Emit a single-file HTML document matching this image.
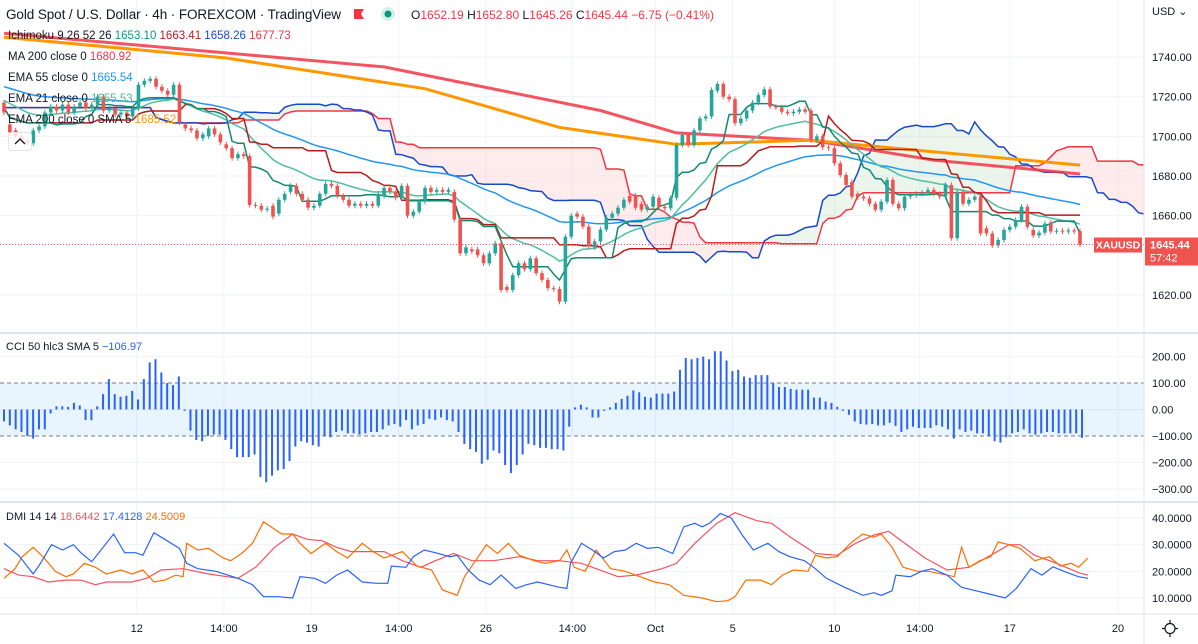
<!DOCTYPE html>
<html><head><meta charset="utf-8"><style>
html,body{margin:0;padding:0;background:#fff;}
svg{display:block;font-family:"Liberation Sans",sans-serif;}
</style></head><body>
<svg id="chart" width="1198" height="644" viewBox="0 0 1198 644" xmlns="http://www.w3.org/2000/svg">
<defs><clipPath id="plotClip"><rect x="0" y="0" width="1144" height="644"/></clipPath></defs>
<rect x="0" y="0" width="1198" height="644" fill="#ffffff"/>
<g id="grid"></g>
<g id="cciPane" clip-path="url(#plotClip)"></g>
<g id="dmiPane" clip-path="url(#plotClip)"></g>
<g id="mainPane" clip-path="url(#plotClip)"></g>
<g id="axes"></g>
<line x1="0" y1="333" x2="1198" y2="333" stroke="#e0e3eb" stroke-width="2"/>
<line x1="0" y1="502" x2="1198" y2="502" stroke="#e0e3eb" stroke-width="2"/>
<line x1="0" y1="614" x2="1198" y2="614" stroke="#e0e3eb" stroke-width="1"/>
<line x1="1144" y1="0" x2="1144" y2="644" stroke="#e0e3eb" stroke-width="1"/>
<text x="6" y="19" font-size="13.5" fill="#131722" textLength="335">Gold Spot / U.S. Dollar · 4h · FOREXCOM · TradingView</text>
<path d="M354 9 L364 9 L361 14 L364 19 L354 19 Z" fill="#f23645"/>
<circle cx="388" cy="14" r="7" fill="#d8efe9"/>
<circle cx="388" cy="14" r="3.5" fill="#089981"/>
<text x="411" y="19" font-size="12"><tspan fill="#131722">O</tspan><tspan fill="#f23645">1652.19 </tspan><tspan fill="#131722">H</tspan><tspan fill="#f23645">1652.80 </tspan><tspan fill="#131722">L</tspan><tspan fill="#f23645">1645.26 </tspan><tspan fill="#131722">C</tspan><tspan fill="#f23645">1645.44 −6.75 (−0.41%)</tspan></text>
<g font-size="11.5">
<text x="8" y="39"><tspan fill="#131722">Ichimoku 9 26 52 26 </tspan><tspan fill="#089981">1653.10 </tspan><tspan fill="#b71c1c">1663.41 </tspan><tspan fill="#1848cc">1658.26 </tspan><tspan fill="#f23645">1677.73</tspan></text>
<text x="8" y="60"><tspan fill="#131722">MA 200 close 0 </tspan><tspan fill="#f23645">1680.92</tspan></text>
<text x="8" y="81"><tspan fill="#131722">EMA 55 close 0 </tspan><tspan fill="#2196f3">1665.54</tspan></text>
<text x="8" y="102"><tspan fill="#131722">EMA 21 close 0 </tspan><tspan fill="#4dbf9e">1655.53</tspan></text>
<text x="8" y="123"><tspan fill="#131722">EMA 200 close 0 SMA 5 </tspan><tspan fill="#ff9800">1685.52</tspan></text>
</g>
<rect x="8.5" y="132.5" width="23" height="18" rx="3" fill="#fff" fill-opacity="0.8" stroke="#e0e3eb"/>
<path d="M15 144 L20 139 L25 144" fill="none" stroke="#131722" stroke-width="1.3"/>
<text x="6" y="350" font-size="11"><tspan fill="#131722">CCI 50 hlc3 SMA 5 </tspan><tspan fill="#2962ff">−106.97</tspan></text>
<text x="6" y="520" font-size="11"><tspan fill="#131722">DMI 14 14 </tspan><tspan fill="#f7525f">18.6442 </tspan><tspan fill="#2962ff">17.4128 </tspan><tspan fill="#ff6d00">24.5009</tspan></text>
<text x="1152" y="15" font-size="11" fill="#131722">USD ⌄</text>
<path d="M1170 620 l0 3 M1170 634 l0 3 M1162 628.5 l3 0 M1175 628.5 l3 0" stroke="#131722" stroke-width="1.2"/>
<circle cx="1170" cy="628.5" r="5" fill="none" stroke="#131722" stroke-width="1.2"/>
</svg>
<script>
const opens=[1717,1706,1703,1700,1698,1696.5,1703,1705,1712,1715,1713,1716,1712,1715,1717,1714,1716,1720,1713,1714,1711,1712,1710,1714,1726,1728,1729,1725,1723,1721,1726,1706,1704,1703,1699,1700,1704,1701,1696,1694,1689,1691,1690,1665.4,1665,1663,1665,1661,1668,1672,1675,1671,1668,1664,1665,1671,1676,1675,1670,1668,1665,1666,1665,1666,1665,1670,1674,1672,1669,1675,1660,1662,1667,1674,1672,1673,1672,1672,1658,1641,1643,1643,1640,1636,1641,1646,1624,1622.5,1630,1636,1633,1638.5,1631,1627.6,1623.4,1623,1616.6,1649.4,1661,1659.5,1654.5,1644,1647,1653,1659,1661,1664,1670,1670,1666,1663,1664.5,1669,1664.5,1663.7,1669,1695.6,1700.7,1695.6,1703,1709,1710,1723,1726.4,1720,1718.7,1706.6,1709,1713,1717,1720.8,1723.7,1715,1714.6,1712.4,1711.6,1712.4,1713.6,1713,1698,1700,1694.5,1694,1686.4,1680.5,1677,1671,1669.6,1668.7,1666,1663,1667,1678,1666,1663.7,1669.6,1670.4,1671,1671.6,1673,1671,1669.6,1675.5,1648.6,1672,1666,1668,1669.6,1653.6,1651,1645,1647.7,1652.8,1654.4,1657.8,1664.5,1652.8,1650,1651.4,1656.5,1652,1652.4,1652,1652.6,1652.19];
const closes=[1712,1702,1700,1698,1696.5,1703,1705,1712,1715,1713,1716,1712,1715,1717,1714,1716,1720,1713,1714,1711,1712,1710,1714,1726,1728,1729,1725,1723,1721,1726,1707,1704,1703,1699,1701,1704,1701,1697,1694,1689,1691,1690,1665.4,1665,1663,1663.5,1659.5,1668,1671,1675,1671,1668,1664,1665,1671,1676,1675,1670,1668,1665,1666,1665,1666,1665,1671,1674,1672,1669,1675,1660,1662,1667,1674,1672,1673,1672,1673,1658,1641,1644,1642,1640,1636,1641,1646,1622.5,1622.5,1630,1636,1633,1638.5,1631,1627.6,1623.4,1623,1616.6,1649.4,1660,1659.5,1654.5,1644.4,1647,1653,1659,1661,1664,1668,1667,1664,1663,1664.5,1669.6,1664.5,1663.7,1669,1695.6,1700.7,1695.6,1703,1709,1710,1723.4,1726.4,1720,1718.7,1706.6,1709,1713,1717,1720.8,1723.7,1715,1714.6,1712.4,1711.6,1712.4,1713.6,1712.4,1698,1700,1694.5,1694,1686.4,1680.5,1675.5,1669.6,1669.3,1668.7,1666,1663,1667,1678,1666,1663.7,1669.6,1670.4,1671,1671.6,1673,1671,1669.6,1675.5,1648.6,1672,1666,1668,1669.6,1651,1651,1645,1647.7,1652.8,1654.4,1657.8,1664.5,1654.4,1650,1651.4,1656,1652,1652.4,1652,1652.6,1652,1645.44];
const ema55Start=1725;
const ema21Start=1718;
const ma200Bars=[0,65,102,115,138,159,184];
const ma200Vals=[1752,1735,1713,1701.7,1698,1688,1681];
const ema200Bars=[0,38,72,95,115,138,156,184];
const ema200Vals=[1750,1739.5,1724,1704.5,1696,1698,1693,1685.5];
const cciVals=[-45,-60,-75,-85,-100,-110,-75,-75,-15,12,12,10,25,15,-40,-40,12,58,115,58,48,52,70,38,115,178,190,140,100,92,125,
-5,-80,-115,-120,-100,-95,-95,-115,
-150,-180,-180,-180,-170,-255,-275,-250,-230,-225,-195,-140,-120,-125,-135,-140,-100,-105,-85,-80,-90,-90,-95,-90,-85,-85,-75,-60,-55,-65,-40,-75,-60,-55,-35,-40,-30,-40,-45,-85,-130,-150,-160,-205,-190,-155,-165,-210,-240,-210,-170,-130,-135,-145,-145,-150,-150,-155,-65,8,18,8,-30,-30,-5,8,25,40,52,72,65,48,45,60,60,60,68,150,195,190,195,200,190,220,220,185,145,150,125,120,130,130,130,100,85,85,78,75,75,75,45,45,30,25,10,-5,-20,-45,-55,-57,-55,-60,-60,-50,-62,-85,-75,-65,-70,-70,-70,-60,-65,-75,-110,-75,-85,-80,-90,-90,-100,-120,-125,-105,-90,-85,-75,-90,-95,-90,-85,-85,-90,-90,-90,-90,-107];
const dmiPlusAt=[0,20,40,50,65,80,95,105,120,150,165,180,190,205,220,240,250,265,290,320,340,355,375,395,405,425,440,455,470,490,510,525,530,550,560,575,590,610,620,635,650,665,680,700,715,730,760,770,775,790,805,820,835,850,865,880,895,915,930,945,955,965,980,995,1010,1025,1045,1060,1075,1095,1110,1125,1150,1175,1190,1200,1215,1220,1240,1255,1270,1290,1310,1330,1345,1370,1385,1405,1420,1435,1450,1470,1483];
const dmiPlus=[30.5,26,19,23,30,28,30,27,23.6,34,27,27,26,34.5,32,28.6,23,21,20,17.4,15,10.5,10.5,10,18,17.4,15.5,18.6,20.5,16,15.5,15.5,22,21.5,25.5,28,27,25.5,26,20.5,16.7,15,18.6,13.6,15,16,14,13.6,23,30.5,28,25,27.4,28,30.5,28.6,29,26.7,36.7,38,36.7,38,41.7,40,33.6,28,30.5,27.4,25.5,24,21,17.4,14,11,12,11,12.7,18.6,18,20,21,18.6,14,12.7,11.7,10,13.6,21,18.6,21.7,20,18,17.4];
const dmiMinusAt=[0,15,25,40,55,70,85,95,110,125,140,160,175,190,205,220,235,245,250,265,280,300,310,325,340,355,365,380,395,405,420,440,455,470,490,505,520,545,565,585,600,620,630,645,660,675,690,705,725,740,760,770,780,795,810,830,850,870,890,910,930,955,975,990,1000,1015,1035,1050,1065,1080,1100,1110,1125,1140,1160,1175,1190,1200,1215,1230,1250,1265,1290,1300,1310,1320,1335,1350,1360,1375,1390,1410,1430,1445,1460,1470,1483];
const dmiMinus=[17.4,21,25.5,29,25,20,18,19,23,21.5,19,20.5,19,20.5,16,16.7,18.6,18,30.5,28,28.6,25,24,26.7,30.5,38.6,36.7,34,34,30.5,26.7,30.5,27.4,25,30.5,27.4,25,27.4,22,20.5,13,11,18,24,30,26.7,30.5,26,24,23,24,28,21.5,20,28,21,20,18,16,15,11,10,8.6,9,10.5,16.7,16.7,15,18.6,20.5,20,26,25,25.5,31,34,32.8,34,29,21.5,20,20,18.6,18,29,21.5,24,25.5,31,30,28.6,24,25.5,22,23,21.5,25];
const adxAt=[0,20,40,60,85,105,125,140,175,195,215,245,280,320,345,370,395,415,435,455,475,520,545,570,590,615,640,670,705,730,760,790,810,840,865,900,920,945,975,1000,1030,1050,1075,1110,1140,1165,1190,1210,1230,1260,1290,1320,1350,1375,1390,1410,1440,1470,1483];
const adxVals=[21,18.6,18,16,16.7,16.7,15,16,16,17.4,20.5,21,19,17.4,21.7,29,34,32,31.5,29,27.4,27.4,24,21.5,24,26.7,24,24,25.5,24,24,23,21,18,18.6,21,23,30.5,38,42,39,38,33,26.7,26,30.5,33.6,35,31,25,20.5,21.5,26,30,30,26,23,19.5,18.6];
const priceTicks=[1740,1720,1700,1680,1660,1620];
const cciTicks=[200,100,0,-100,-200,-300];
const dmiTicks=[40,30,20,10];
const timeLabels=["12","14:00","19","14:00","26","14:00","Oct","5","10","14:00","17","20"];
const timeLabelBars=[22.7,37.6,52.6,67.5,82.4,97.2,111.4,124.6,142,156.6,172,190.5];

const NS="http://www.w3.org/2000/svg";
const X0=4, X1=1080;
const barStep=(X1-X0)/(closes.length-1);
const xBar=b=>X0+b*barStep;
const xCci=i=>X0+i*(1078/(cciVals.length-1));
const yP=p=>57+(1740-p)*1.983;
const yC=v=>409.5-v*0.2645;
const yD=v=>518+(40-v)*2.667;
function el(tag,attrs,parent){const e=document.createElementNS(NS,tag);for(const k in attrs)e.setAttribute(k,attrs[k]);parent.appendChild(e);return e;}
const grid=document.getElementById('grid'),mainG=document.getElementById('mainPane'),cciG=document.getElementById('cciPane'),dmiG=document.getElementById('dmiPane'),axes=document.getElementById('axes');

timeLabels.forEach((t,i)=>{
  const x=xBar(timeLabelBars[i]);
  const g=el('line',{x1:x,y1:0,x2:x,y2:614,stroke:'#f0f3fa','stroke-width':1},grid);
  
  
  const tx=el('text',{x:x,y:632,'font-size':11,fill:'#131722','text-anchor':'middle'},axes);
  tx.textContent=t;
  
  
});
priceTicks.forEach(p=>{
  const y=yP(p);
  const g=el('line',{x1:0,y1:y,x2:1144,y2:y,stroke:'#f0f3fa'},grid);
  
  
  const t=el('text',{x:1152,y:y+4,'font-size':11,fill:'#131722'},axes);
  t.textContent=p.toFixed(2);
  
  
});
cciTicks.forEach(v=>{
  const y=yC(v);
  if(Math.abs(v)!==100){const g=el('line',{x1:0,y1:y,x2:1144,y2:y,stroke:'#f0f3fa'},grid);
  
  }
  const t=el('text',{x:1152,y:y+4,'font-size':11,fill:'#131722'},axes);
  t.textContent=(v<0?'−':'')+Math.abs(v).toFixed(2);
  
  
});
dmiTicks.forEach(v=>{
  const y=yD(v);
  const g=el('line',{x1:0,y1:y,x2:1144,y2:y,stroke:'#f0f3fa'},grid);
  
  
  const t=el('text',{x:1152,y:y+4,'font-size':11,fill:'#131722'},axes);
  t.textContent=v.toFixed(4);
  
  
});

const N=closes.length;
const highs=closes.map((c,i)=>Math.max(c,opens[i])+1.3);
const lows=closes.map((c,i)=>Math.min(c,opens[i])-1.3);
function mid(i,n){let h=-1e9,l=1e9;for(let k=Math.max(0,i-n+1);k<=i;k++){h=Math.max(h,highs[k]);l=Math.min(l,lows[k]);}return (h+l)/2;}
const tenkan=[],kijun=[];for(let i=0;i<N;i++){tenkan.push(mid(i,9));kijun.push(mid(i,26));}
const spanA=[],spanB=[];
for(let j=0;j<N+25;j++){const i=Math.max(0,j-25);spanA.push((tenkan[i]+kijun[i])/2);spanB.push(mid(i,52));}
function ema(n,seed){const k=2/(n+1);const out=[seed];for(let i=1;i<N;i++)out.push(closes[i]*k+out[i-1]*(1-k));return out;}
const ema21=ema(21,ema21Start),ema55=ema(55,ema55Start);
function poly(pts,attrs,parent){return el('polyline',Object.assign({points:pts.map(q=>q[0].toFixed(1)+','+q[1].toFixed(1)).join(' '),fill:'none'},attrs),parent);}

for(let j=0;j<spanA.length-1;j++){
  const a0=spanA[j],a1=spanA[j+1],b0=spanB[j],b1=spanB[j+1];
  const green=(a0+a1)>(b0+b1);
  const q=el('polygon',{points:`${xBar(j)},${yP(a0)} ${xBar(j+1)},${yP(a1)} ${xBar(j+1)},${yP(b1)} ${xBar(j)},${yP(b0)}`,fill:green?'rgba(67,160,71,0.1)':'rgba(242,54,69,0.1)',stroke:'none'},mainG);
  
  
}
let l;
l=poly(spanB.map((v,i)=>[xBar(i),yP(v)]),{stroke:'#f23645','stroke-width':1.5},mainG);


l=poly(spanA.map((v,i)=>[xBar(i),yP(v)]),{stroke:'#1848cc','stroke-width':1.5},mainG);


function knots(bars,vals){return bars.map((b,i)=>[xBar(b),yP(vals[i])]);}
l=poly(knots(ma200Bars,ma200Vals),{stroke:'#f23645','stroke-opacity':0.85,'stroke-width':3},mainG);


l=poly(knots(ema200Bars,ema200Vals),{stroke:'#ff9800','stroke-width':3},mainG);


l=poly(ema55.map((v,i)=>[xBar(i),yP(v)]),{stroke:'#2196f3','stroke-width':1.5},mainG);


l=poly(ema21.map((v,i)=>[xBar(i),yP(v)]),{stroke:'#4dbf9e','stroke-width':1.5},mainG);


l=poly(kijun.map((v,i)=>[xBar(i),yP(v)]),{stroke:'#b71c1c','stroke-width':1.5},mainG);


l=poly(tenkan.map((v,i)=>[xBar(i),yP(v)]),{stroke:'#0f8a6e','stroke-width':1.5},mainG);



for(let i=0;i<N;i++){
  const up=closes[i]>=opens[i];const col=up?'#26a69a':'#ef5350';const x=xBar(i);
  const w=el('line',{x1:x,y1:yP(highs[i]),x2:x,y2:yP(lows[i]),stroke:col,'stroke-width':1},mainG);
  
  
  const top=yP(Math.max(opens[i],closes[i])),bot=yP(Math.min(opens[i],closes[i]));
  const b=el('rect',{x:x-1.8,y:top,width:3.6,height:Math.max(1,bot-top),fill:col},mainG);
  
  
}
const lastY=yP(closes[N-1]);
l=el('line',{x1:0,y1:lastY,x2:1144,y2:lastY,stroke:'#ef5350','stroke-width':1,'stroke-dasharray':'1 2'},mainG);


const sym=el('rect',{x:1094,y:lastY-7,width:48,height:15,fill:'#ef5350'},axes);


const symT=el('text',{x:1118,y:lastY+4,'font-size':10.5,fill:'#fff','text-anchor':'middle','font-weight':'bold'},axes);
symT.textContent='XAUUSD';


const pl=el('rect',{x:1145,y:lastY-7,width:53,height:28,fill:'#ef5350'},axes);


const plT=el('text',{x:1150,y:lastY+4,'font-size':11,fill:'#fff','font-weight':'bold'},axes);
plT.textContent=closes[N-1].toFixed(2);


const cd=el('text',{x:1150,y:lastY+17,'font-size':11,fill:'#fff'},axes);
cd.textContent='57:42';



const band=el('rect',{x:0,y:yC(100),width:1144,height:yC(-100)-yC(100),fill:'rgba(33,150,243,0.1)'},cciG);


[100,-100].forEach(v=>{const d=el('line',{x1:0,y1:yC(v),x2:1144,y2:yC(v),stroke:'#787b86','stroke-dasharray':'4 3'},cciG);

});
cciVals.forEach((v,i)=>{
  const x=xCci(i);const y0=yC(0),y1=yC(v);
  const r=el('rect',{x:x-1,y:Math.min(y0,y1),width:2,height:Math.max(0.5,Math.abs(y1-y0)),fill:'#2962ff'},cciG);
  
  
});

function dmiLine(at,vals,color,name){
  const p=poly(at.map((t,i)=>[xBar(t/8),yD(vals[i])]),{stroke:color,'stroke-width':1.2},dmiG);
  
  
}
dmiLine(adxAt,adxVals,'#f7525f','dmi-adx-line');
dmiLine(dmiMinusAt,dmiMinus,'#ff6d00','dmi-minus-di-line');
dmiLine(dmiPlusAt,dmiPlus,'#2962ff','dmi-plus-di-line');
</script>
</body></html>
